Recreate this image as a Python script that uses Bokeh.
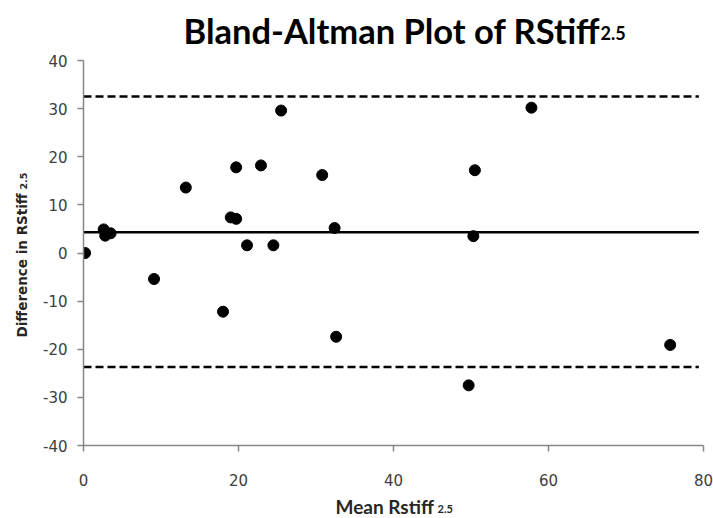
from bokeh.plotting import figure
from bokeh.models import Range1d, ColumnDataSource
from bokeh.core.properties import value
from bokeh.layouts import column, row
from bokeh.embed import file_html
from bokeh.resources import INLINE
from math import pi

# ---- data ----
mean_rstiff = [0.2, 2.6, 2.8, 3.5, 9.1, 13.2, 18.0, 19.0, 19.7, 19.7, 21.1,
               22.9, 24.5, 25.5, 30.8, 32.4, 32.6, 49.7, 50.3, 50.5, 57.8, 75.7]
diff_rstiff = [0.0, 4.9, 3.6, 4.1, -5.4, 13.6, -12.2, 7.4, 7.1, 17.8, 1.6,
               18.2, 1.6, 29.6, 16.2, 5.2, -17.4, -27.5, 3.5, 17.2, 30.2, -19.1]
mean_diff = 4.3
upper_loa = 32.5
lower_loa = -23.7
line_x = [0, 79.4]

x_ticks = [0, 20, 40, 60, 80]
y_ticks = [-40, -30, -20, -10, 0, 10, 20, 30, 40]

title_main = "Bland-Altman Plot of RStiff"
title_sub = "2.5"
xlabel_main = "Mean Rstiff"
ylabel_main = "Difference in RStiff"
sub_txt = "2.5"

W, H = 713, 518
TOP, BOT, LEFT = 52, 490, 40   # page rows/cols where the main plot sits
FRAME_T, FRAME_B = 60, 445


def text_panel(width, height, x0, x1, ytop, ybot):
    f = figure(width=width, height=height, output_backend="svg", toolbar_location=None,
               title=None,
               x_range=Range1d(x0, x1), y_range=Range1d(ybot, ytop),
               x_axis_location=None, y_axis_location=None,
               min_border=0, min_border_left=0, min_border_right=0,
               min_border_top=0, min_border_bottom=0)
    f.outline_line_color = None
    f.xgrid.visible = False
    f.ygrid.visible = False
    f.background_fill_color = "white"
    f.border_fill_color = "white"
    return f


def lab(f, x, y, text, font, size, angle=0, color="black"):
    f.text(x=[x], y=[y], text=[text], angle=angle, text_font=value(font),
           text_font_style="bold", text_font_size=size,
           text_baseline="alphabetic", text_align="left", text_color=color)


# title strip
t = text_panel(W, TOP, 0, W, 0, TOP)
lab(t, 183, 30, title_main, "Lato", "34.5px")
lab(t, 600, 32, title_sub, "Lato", "18px")

# y-label strip (its frame lines up with the main plot frame)
yl = text_panel(LEFT, BOT - TOP, 0, LEFT, FRAME_T, FRAME_B)
lab(yl, 21, 337, ylabel_main, "DejaVu Sans", "13.5px", angle=pi / 2, color="#262626")
lab(yl, 23, 189, sub_txt, "DejaVu Sans", "9.5px", angle=pi / 2, color="#262626")

# x-label strip
xl = text_panel(W, H - BOT, 0, W, BOT, H)
lab(xl, 335, 506, xlabel_main, "Lato", "19px", color="#262626")
lab(xl, 437, 508, sub_txt, "Lato", "11px", color="#262626")

# main plot
p = figure(width=W - LEFT, height=BOT - TOP, output_backend="svg", toolbar_location=None,
           x_range=Range1d(0, 80), y_range=Range1d(-40, 40),
           min_border_left=83 - LEFT, min_border_right=10,
           min_border_top=FRAME_T - TOP, min_border_bottom=BOT - FRAME_B)
p.outline_line_color = None
p.xgrid.visible = False
p.ygrid.visible = False
p.background_fill_color = "white"
p.border_fill_color = "white"

axis_col = "#868686"
lab_col = "#404040"
p.xaxis.ticker = x_ticks
p.yaxis.ticker = y_ticks
p.xaxis.major_label_overrides = {v: str(v) for v in x_ticks}
p.yaxis.major_label_overrides = {v: str(v) for v in y_ticks}
for ax in (p.xaxis[0], p.yaxis[0]):
    ax.axis_line_color = axis_col
    ax.axis_line_width = 1.5
    ax.major_tick_line_color = axis_col
    ax.major_tick_line_width = 1.5
    ax.major_tick_out = 6
    ax.major_tick_in = 0
    ax.minor_tick_line_color = None
    ax.major_label_text_font = "DejaVu Sans"
    ax.major_label_text_font_size = "15px"
    ax.major_label_text_color = lab_col
p.xaxis.major_label_standoff = 22
p.yaxis.major_label_standoff = 10

p.line(line_x, [upper_loa, upper_loa], line_color="black", line_width=2.5, line_dash="8 4")
p.line(line_x, [lower_loa, lower_loa], line_color="black", line_width=2.5, line_dash="8 4")
p.line(line_x, [mean_diff, mean_diff], line_color="black", line_width=2.5)
src = ColumnDataSource(dict(x=mean_rstiff, y=diff_rstiff))
p.scatter("x", "y", source=src, size=11, color="black")

layout = column(t, row(yl, p), xl)
open("out.html", "w").write(file_html(layout, INLINE))
